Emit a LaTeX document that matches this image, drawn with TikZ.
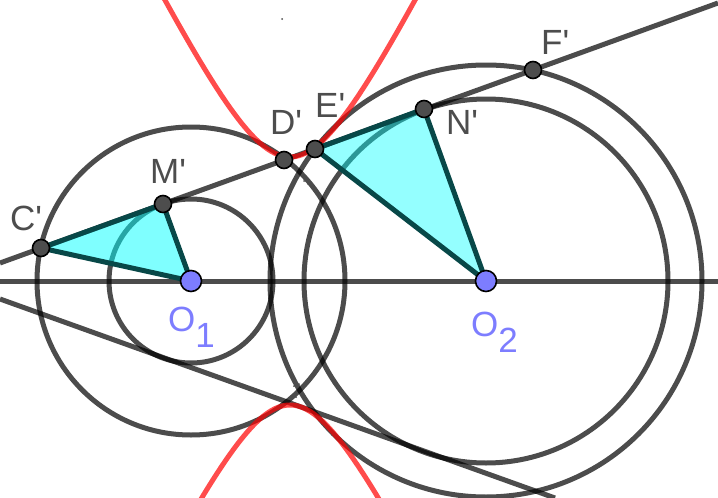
\documentclass[tikz,border=0pt]{standalone}
\usepackage{fontspec}
\setmainfont[Ligatures=TeXOff]{Liberation Sans}
\definecolor{gris}{RGB}{77,77,77}
\definecolor{azul}{RGB}{125,125,255}
\definecolor{celeste}{RGB}{0,255,255}
\definecolor{verdoso}{RGB}{8,72,72}
\tikzset{
  recta/.style={line width=5pt,black,opacity=.7},
  hiperbola/.style={line width=5pt,red,opacity=.7},
  lado/.style={line width=5pt,draw=verdoso,fill=celeste,fill opacity=.5,draw opacity=1,line join=round},
  punto/.style={circle,draw=black,line width=1.6pt,fill=gris,inner sep=0pt,minimum size=17pt},
  foco/.style={circle,draw=black,line width=1.6pt,fill=azul,inner sep=0pt,minimum size=21pt},
  etiqueta/.style={text=gris,font=\fontsize{35}{35}\selectfont,inner sep=0pt,anchor=base west},
  etiquetaO/.style={text=azul,font=\fontsize{35}{35}\selectfont,inner sep=0pt,anchor=base west}
}
\begin{document}
\begin{tikzpicture}[x=1pt,y=-1pt]
\useasboundingbox (0,0) rectangle (718,498);
\clip (0,0) rectangle (718,498);
\coordinate (O1) at (191,281);
\coordinate (O2) at (486,281);
\coordinate (C) at (41,248);
\coordinate (M) at (163,204);
\coordinate (D) at (284,160);
\coordinate (E) at (315,149);
\coordinate (N) at (424,109);
\coordinate (F) at (533,70);
% Las rectas y las circunferencias
\coordinate (eje1) at (0,281);
\coordinate (eje2) at (718,281);
\coordinate (tan1) at (0,263);
\coordinate (tan2) at (718,3);
\coordinate (tan3) at (0,299);
\coordinate (tan4) at (555,498);
\draw[recta] (eje1) -- (eje2);
\draw[recta] (tan1) -- (tan2);
\draw[recta] (tan3) -- (tan4);
\draw[recta] (O1) circle (82);
\draw[recta] (O1) circle (154);
\draw[recta] (O2) circle (182);
\draw[recta] (O2) circle (216);
% La hiperbola, una rama arriba y otra abajo
\draw[hiperbola,domain=155:425,samples=80,smooth,variable=\x] plot ({\x},{281-124*sqrt(1+((\x-290)/61.5)^2)});
\draw[hiperbola,domain=190:390,samples=80,smooth,variable=\x] plot ({\x},{281+124*sqrt(1+((\x-290)/61.5)^2)});
% Los triangulos
\draw[lado] (C) -- (M) -- (O1) -- cycle;
\draw[lado,fill opacity=.42] (E) -- (N) -- (O2) -- cycle;
% Las manchitas junto a los cortes
\foreach \a/\b in {282/19,304/181,308/184,311/186,294/386,299/384,292/396,296/397}
  \fill[gris] (\a,\b) circle (1);
% Los puntos
\node[punto] (pC) at (C) {};
\node[punto] (pM) at (M) {};
\node[punto] (pD) at (D) {};
\node[punto] (pE) at (E) {};
\node[punto] (pN) at (N) {};
\node[punto] (pF) at (F) {};
\node[foco] (pO1) at (O1) {};
\node[foco] (pO2) at (O2) {};
\node[etiqueta] (lC) at (10,230) {C'};
\node[etiqueta] (lM) at (150,183) {M'};
\node[etiqueta] (lD) at (270,134) {D'};
\node[etiqueta] (lE) at (315,117) {E'};
\node[etiqueta] (lN) at (446,134) {N'};
\node[etiqueta] (lF) at (541,54) {F'};
\node[etiquetaO] (lO1) at (168,331) {O\kern0pt\raisebox{-16pt}{1}};
\node[etiquetaO] (lO2) at (471,336) {O\kern0pt\raisebox{-16pt}{2}};
\end{tikzpicture}
\end{document}
